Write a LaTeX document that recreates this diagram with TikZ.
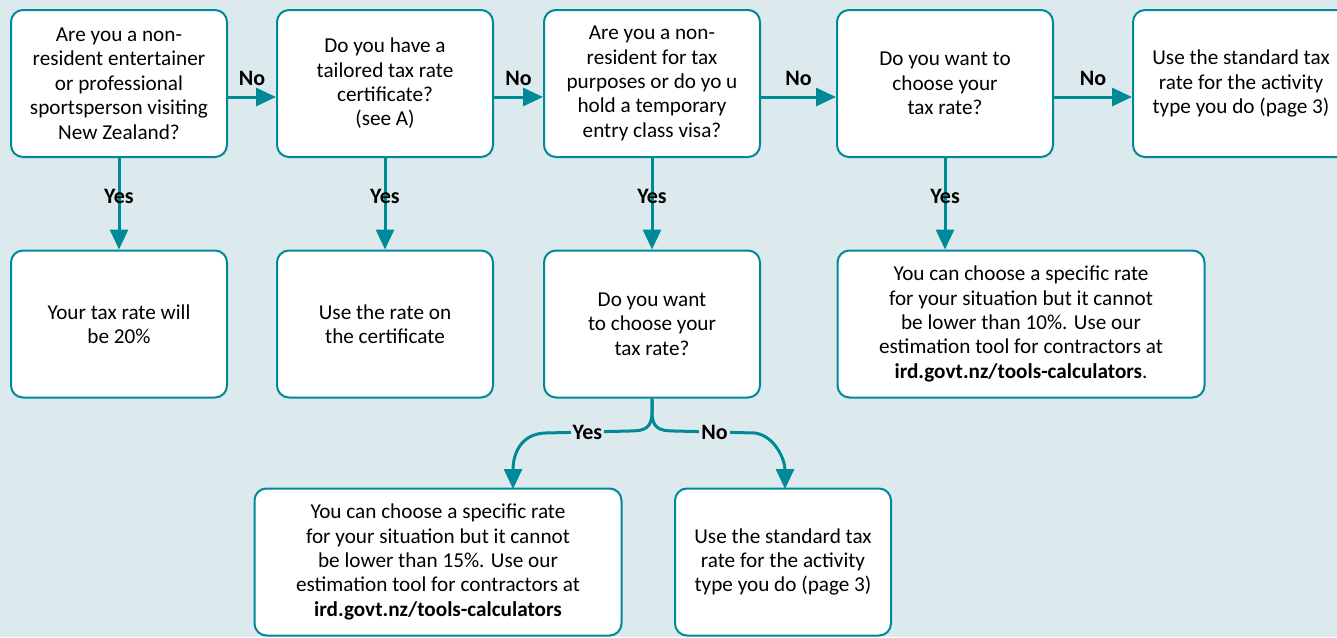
\documentclass[tikz,border=0pt]{standalone}
\usepackage{fontspec}
\setmainfont{Carlito}
\usetikzlibrary{arrows.meta}
\definecolor{tealline}{RGB}{0,137,150}
\definecolor{bgblue}{RGB}{220,234,238}

\begin{document}
\begin{tikzpicture}[x=0.5pt,y=-0.5pt,
    box/.style={draw=tealline,line width=1pt,fill=white,rounded corners=6pt,minimum width=108pt,minimum height=73.5pt,align=center,inner sep=2pt,font=\fontsize{10.6}{12.2}\selectfont},
    widebox/.style={box,minimum width=183.5pt},
    lbl/.style={font=\fontsize{11}{13}\selectfont\bfseries,inner sep=1pt},
    arr/.style={draw=tealline,line width=1.5pt,-{Triangle[length=10pt,width=9pt]}}]
    \path[use as bounding box] (0,0) rectangle (1337,637);
    \clip (0,0) rectangle (1337,637);
    \fill[bgblue] (0,0) rectangle (1337,637);

    \node[box] (q1) at (119,83.5) {Are you a non-\\resident entertainer\\or professional\\sportsperson visiting\\New Zealand?};
    \node[box] (q2) at (385,83.5) {Do you have a\\tailored tax rate\\certificate?\\(see A)};
    \node[box] (q3) at (652,83.5) {Are you a non-\\resident for tax\\purposes or do yo u\\hold a temporary\\entry class visa?};
    \node[box] (q4) at (945,83.5) {Do you want to\\choose your\\tax rate?};
    \node[box] (std) at (1241,83.5) {Use the standard tax\\rate for the activity\\type you do (page 3)};

    \node[box] (r20) at (119,324) {Your tax rate will\\be 20\%};
    \node[box] (cert) at (385,324) {Use the rate on\\the certificate};
    \node[box] (q5) at (652,324) {Do you want\\to choose your\\tax rate?};
    \node[widebox] (c10) at (1021,324) {You can choose a specific rate\\for your situation but it cannot\\be lower than 10\%. Use our\\estimation tool for contractors at\\\textbf{ird.govt.nz/tools-calculators}.};

    \node[widebox] (c15) at (438,562) {You can choose a specific rate\\for your situation but it cannot\\be lower than 15\%. Use our\\estimation tool for contractors at\\\textbf{ird.govt.nz/tools-calculators}};
    \node[box] (std2) at (783,562) {Use the standard tax\\rate for the activity\\type you do (page 3)};

    \draw[arr] ([yshift=-6.75pt]q1.east) -- node[lbl,above=4pt]{No} ([yshift=-6.75pt]q2.west);
    \draw[arr] ([yshift=-6.75pt]q2.east) -- node[lbl,above=4pt]{No} ([yshift=-6.75pt]q3.west);
    \draw[arr] ([yshift=-6.75pt]q3.east) -- node[lbl,above=4pt]{No} ([yshift=-6.75pt]q4.west);
    \draw[arr] ([yshift=-6.75pt]q4.east) -- node[lbl,above=4pt]{No} ([yshift=-6.75pt]std.west);

    \draw[arr] (q1) -- node[lbl,pos=0.42]{Yes} (r20);
    \draw[arr] (q2) -- node[lbl,pos=0.42]{Yes} (cert);
    \draw[arr] (q3) -- node[lbl,pos=0.42]{Yes} (q5);
    \draw[arr] (q4.south) -- node[lbl,pos=0.42]{Yes} (q4.south |- c10.north);

    \coordinate (ytip) at (513,489);
    \coordinate (ntip) at (785,489);
    \draw[arr] (q5.south) -- (652,412) .. controls (652,428) and (645,431) .. (630,431) -- node[lbl,fill=bgblue]{Yes} (545,433) .. controls (520,434) and (513,455) .. (ytip);
    \draw[arr] (q5.south) -- (652,412) .. controls (652,428) and (659,431) .. (674,431) -- node[lbl,fill=bgblue]{No} (755,433) .. controls (775,436) and (785,460) .. (ntip);
\end{tikzpicture}
\end{document}
